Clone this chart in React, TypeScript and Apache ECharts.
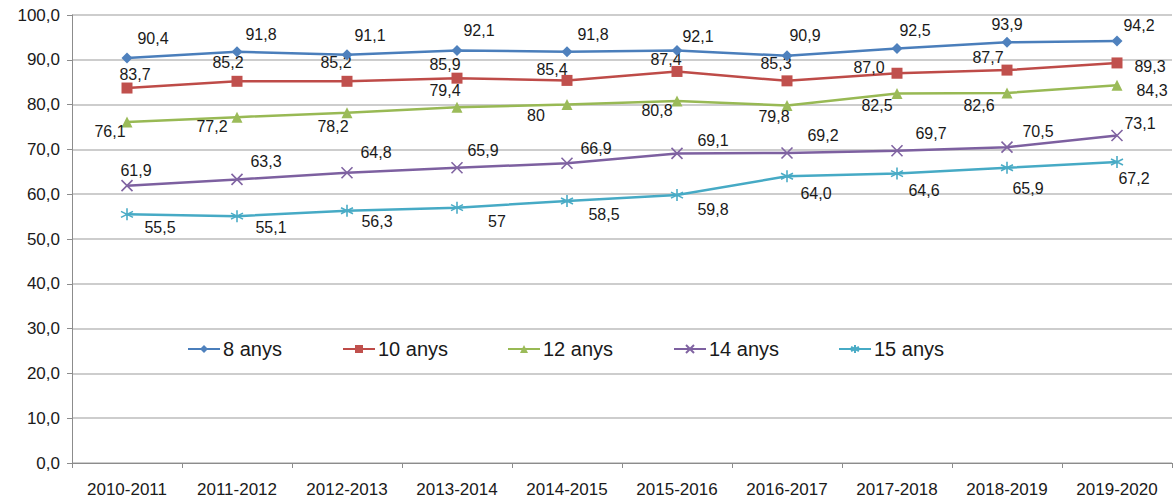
import React, { useEffect, useRef } from "react";
import * as echarts from "echarts";

// ---------- DATA ----------
const categories = [
  "2010-2011", "2011-2012", "2012-2013", "2013-2014", "2014-2015",
  "2015-2016", "2016-2017", "2017-2018", "2018-2019", "2019-2020",
];
const anys8 = [90.4, 91.8, 91.1, 92.1, 91.8, 92.1, 90.9, 92.5, 93.9, 94.2];
const anys10 = [83.7, 85.2, 85.2, 85.9, 85.4, 87.4, 85.3, 87.0, 87.7, 89.3];
const anys12 = [76.1, 77.2, 78.2, 79.4, 80, 80.8, 79.8, 82.5, 82.6, 84.3];
const anys14 = [61.9, 63.3, 64.8, 65.9, 66.9, 69.1, 69.2, 69.7, 70.5, 73.1];
const anys15 = [55.5, 55.1, 56.3, 57, 58.5, 59.8, 64.0, 64.6, 65.9, 67.2];
const labels8 = ["90,4", "91,8", "91,1", "92,1", "91,8", "92,1", "90,9", "92,5", "93,9", "94,2"];
const labels10 = ["83,7", "85,2", "85,2", "85,9", "85,4", "87,4", "85,3", "87,0", "87,7", "89,3"];
const labels12 = ["76,1", "77,2", "78,2", "79,4", "80", "80,8", "79,8", "82,5", "82,6", "84,3"];
const labels14 = ["61,9", "63,3", "64,8", "65,9", "66,9", "69,1", "69,2", "69,7", "70,5", "73,1"];
const labels15 = ["55,5", "55,1", "56,3", "57", "58,5", "59,8", "64,0", "64,6", "65,9", "67,2"];
const seriesNames = ["8 anys", "10 anys", "12 anys", "14 anys", "15 anys"];
const yTicks = { min: 0, max: 100, interval: 10 };

// ---------- STYLE ----------
const FONT = "Liberation Sans";
const colors = ["#4a7ebb", "#be4b48", "#98b954", "#7d60a0", "#46aac5"];
const markerColors = ["#4f81bd", "#c0504d", "#9bbb59", "#8064a2", "#4bacc6"];
const symbols = [
  "diamond",
  "rect",
  "triangle",
  "path://M0,0L10,10M10,0L0,10",
  "path://M5,0L5,10M0,2.5L10,7.5M0,7.5L10,2.5",
];
const symbolSizes = [11, 11, 11, 11, 12];
const labelOffsets = [
  [[26, -20], [24, -17], [23, -19], [22, -20], [26, -17], [21, -14], [18, -20], [18, -18], [0, -18], [22, -15]],
  [[8, -14], [-9, -19], [-11, -19], [-12, -14], [-15, -11], [-11, -12], [-11, -17], [-28, -6], [-19, -13], [33, 4]],
  [[-17, 9], [-25, 9], [-14, 14], [-12, -17], [-31, 11], [-20, 9], [-13, 11], [-20, 12], [-28, 13], [35, 5]],
  [[9, -15], [29, -18], [29, -20], [26, -17], [29, -15], [36, -13], [36, -17], [34, -17], [31, -16], [23, -12]],
  [[33, 13], [34, 11], [30, 11], [40, 14], [37, 14], [36, 14], [29, 17], [27, 17], [21, 21], [17, 17]],
];
const legendLefts = [187, 342, 507, 673, 838];

export default function App() {
  const ref = useRef<HTMLDivElement>(null);
  useEffect(() => {
    if (!ref.current) return;
    const chart = echarts.init(ref.current, undefined, { renderer: "svg" });
    const allValues = [anys8, anys10, anys12, anys14, anys15];
    const allLabels = [labels8, labels10, labels12, labels14, labels15];
    const series = seriesNames.map((name, s) => ({
      name,
      type: "line",
      data: allValues[s].map((v, i) => ({
        value: v,
        label: { offset: labelOffsets[s][i], formatter: allLabels[s][i] },
      })),
      symbol: symbols[s],
      symbolSize: symbolSizes[s],
      showAllSymbol: true,
      lineStyle: { color: colors[s], width: 2.5 },
      itemStyle: {
        color: markerColors[s],
        borderColor: markerColors[s],
        borderWidth: s >= 3 ? 1.6 : 0,
      },
      label: {
        show: true,
        position: "inside",
        color: "#1a1a1a",
        fontFamily: FONT,
        fontSize: 16,
      },
      emphasis: { disabled: true },
      z: 10 - s,
    }));
    const legends = seriesNames.map((name, s) => ({
      data: [name],
      left: legendLefts[s],
      top: 339,
      padding: 0,
      itemWidth: 32,
      itemHeight: 10,
      itemGap: 0,
      textStyle: { fontFamily: FONT, fontSize: 20, color: "#1a1a1a", lineHeight: 20, padding: [0, 0, 0, -2] },
      selectedMode: false,
    }));
    chart.setOption({
      animation: false,
      backgroundColor: "#ffffff",
      grid: { left: 72, right: 4, top: 15, bottom: 38 },
      legend: legends,
      xAxis: {
        type: "category",
        data: categories,
        boundaryGap: true,
        axisLine: { show: true, lineStyle: { color: "#8c8c8c", width: 1 } },
        axisTick: { show: true, length: 5, lineStyle: { color: "#8c8c8c" } },
        axisLabel: { fontFamily: FONT, fontSize: 17, color: "#1a1a1a", margin: 18, interval: 0 },
      },
      yAxis: {
        type: "value",
        min: yTicks.min,
        max: yTicks.max,
        interval: yTicks.interval,
        axisLine: { show: true, lineStyle: { color: "#8c8c8c", width: 1 } },
        axisTick: { show: true, length: 5, lineStyle: { color: "#8c8c8c" } },
        splitLine: { show: true, lineStyle: { color: "#bcbcbc", width: 1.5 } },
        axisLabel: {
          fontFamily: FONT,
          fontSize: 17,
          color: "#1a1a1a",
          margin: 12,
          formatter: (v: number) => v.toFixed(1).replace(".", ","),
        },
      },
      series,
    });
    return () => chart.dispose();
  }, []);
  return (
    <div
      ref={ref}
      style={{ position: "fixed", left: 0, top: 0, width: 1176, height: 501, background: "#fff" }}
    />
  );
}
